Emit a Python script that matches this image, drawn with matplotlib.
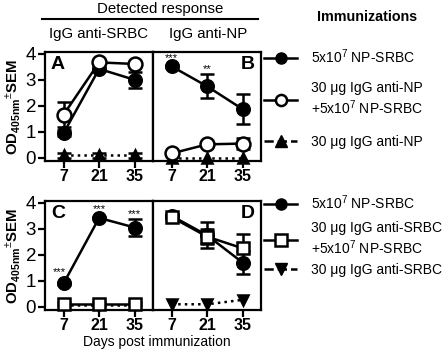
import matplotlib
matplotlib.use("Agg")
import matplotlib.pyplot as plt
from matplotlib.lines import Line2D

plt.rcParams['font.family'] = ['Liberation Sans', 'DejaVu Sans']
plt.rcParams['mathtext.fontset'] = 'custom'
plt.rcParams['mathtext.rm'] = 'Liberation Sans'
plt.rcParams['mathtext.it'] = 'Liberation Sans:italic'
plt.rcParams['mathtext.bf'] = 'Liberation Sans:bold'

# Data
days = [7, 21, 35]

# A: IgG anti-SRBC, top-row immunizations
a_np_srbc = [0.95, 3.42, 3.0]
a_np_srbc_err = [0.12, 0.08, 0.32]
a_antinp_np = [1.66, 3.67, 3.61]
a_antinp_np_err = [0.48, 0.06, 0.06]
a_antinp = [0.1, 0.1, 0.1]
a_antinp_err = [0.1, 0.1, 0.1]

# B: IgG anti-NP, top-row immunizations
b_np_srbc = [3.52, 2.75, 1.87]
b_np_srbc_err = [0.05, 0.46, 0.58]
b_antinp_np = [0.17, 0.52, 0.55]
b_antinp_np_err = [0.05, 0.06, 0.22]
b_antinp = [0.0, 0.0, 0.0]

# C: IgG anti-SRBC, bottom-row immunizations
c_np_srbc = [0.9, 3.42, 3.05]
c_np_srbc_err = [0.05, 0.05, 0.33]
c_antisrbc_np = [0.12, 0.12, 0.12]
c_antisrbc_np_err = [0.06, 0.06, 0.06]
c_antisrbc = [0.08, 0.08, 0.08]

# D: IgG anti-NP, bottom-row immunizations
d_np_srbc = [3.5, 2.75, 1.7]
d_np_srbc_err = [0.06, 0.5, 0.45]
d_antisrbc_np = [3.45, 2.7, 2.25]
d_antisrbc_np_err = [0.06, 0.3, 0.55]
d_antisrbc = [0.1, 0.1, 0.27]

top_labels = ["5x10$^7$ NP-SRBC", "30 \u03bcg IgG anti-NP\n+5x10$^7$ NP-SRBC", "30 \u03bcg IgG anti-NP"]
bottom_labels = ["5x10$^7$ NP-SRBC", "30 \u03bcg IgG anti-SRBC\n+5x10$^7$ NP-SRBC", "30 \u03bcg IgG anti-SRBC"]

W, H = 448, 353
fig = plt.figure(figsize=(W / 100, H / 100), dpi=100)

LW = 1.8
MS = 9


def make_ax(left, top, width, height):
    return fig.add_axes([left / W, 1 - (top + height) / H, width / W, height / H])


def style(ax, show_y):
    ax.set_xlim(-0.5, 42)
    ax.set_ylim(-0.12, 4.07)
    ax.set_xticks(days)
    ax.set_xticklabels([str(d) for d in days], fontsize=11.5, fontweight='bold')
    for s in ax.spines.values():
        s.set_linewidth(1.6)
    ax.tick_params(axis='x', direction='out', length=5, width=1.6, pad=1)
    if show_y:
        ax.set_yticks([0, 1, 2, 3, 4])
        ax.tick_params(axis='y', direction='out', length=5, width=1.6, labelsize=13.5, pad=1)
    else:
        ax.set_yticks([])


def series(ax, y, err, marker, mfc, ls='-', ms=MS):
    ax.errorbar(days, y, yerr=err, fmt=marker, ls=ls, color='k', mfc=mfc, mec='k', mew=1.8,
                ms=ms, lw=LW, elinewidth=LW, capsize=5, capthick=LW, clip_on=False, zorder=3)


axA = make_ax(44.5, 52, 108, 109)
axB = make_ax(152.5, 52, 108, 109)
axC = make_ax(44.5, 201, 108, 109)
axD = make_ax(152.5, 201, 108, 109)

# Panel A
series(axA, a_antinp, a_antinp_err, '^', 'k', ls=':', ms=7)
series(axA, a_np_srbc, a_np_srbc_err, 'o', 'k')
series(axA, a_antinp_np, a_antinp_np_err, 'o', 'white', ms=10)

# Panel B
series(axB, b_antinp, None, '^', 'k', ls=':', ms=7)
series(axB, b_np_srbc, b_np_srbc_err, 'o', 'k')
series(axB, b_antinp_np, b_antinp_np_err, 'o', 'white', ms=10)
axB.text(7, 3.72, '***', ha='center', fontsize=8)
axB.text(21, 3.28, '**', ha='center', fontsize=8)

# Panel C
series(axC, c_antisrbc, None, 'v', 'k', ls=':', ms=7)
series(axC, c_antisrbc_np, c_antisrbc_np_err, 's', 'white', ms=9)
series(axC, c_np_srbc, c_np_srbc_err, 'o', 'k')
axC.text(5.2, 1.22, '***', ha='center', fontsize=8)
axC.text(21, 3.64, '***', ha='center', fontsize=8)
axC.text(35, 3.46, '***', ha='center', fontsize=8)

# Panel D
series(axD, d_antisrbc, None, 'v', 'k', ls=':', ms=7)
series(axD, d_np_srbc, d_np_srbc_err, 'o', 'k')
series(axD, d_antisrbc_np, d_antisrbc_np_err, 's', 'white', ms=9)

for ax, letter, show_y in [(axA, 'A', True), (axB, 'B', False), (axC, 'C', True), (axD, 'D', False)]:
    style(ax, show_y)
    if show_y:
        ax.text(0.06, 0.96, letter, transform=ax.transAxes, ha='left', va='top',
                fontsize=14, fontweight='bold')
    else:
        ax.text(0.95, 0.96, letter, transform=ax.transAxes, ha='right', va='top',
                fontsize=14, fontweight='bold')

# y labels
for ax in (axA, axC):
    ax.set_ylabel(r"OD$_{\mathbf{405nm}}$$^{\pm}$SEM", fontsize=10.8, fontweight='bold', labelpad=2)

fig.text(157 / W, 1 - 342 / H, "Days post immunization", ha='center', va='center', fontsize=10)

# Headers
fig.text(160 / W, 1 - 9 / H, "Detected response", ha='center', va='center', fontsize=10.8)
fig.add_artist(Line2D([42 / W, 258 / W], [1 - 19 / H] * 2, transform=fig.transFigure,
                      color='k', lw=1.5))
fig.text(98 / W, 1 - 34 / H, "IgG anti-SRBC", ha='center', va='center', fontsize=10.8)
fig.text(208 / W, 1 - 34 / H, "IgG anti-NP", ha='center', va='center', fontsize=10.8)
fig.text(367 / W, 1 - 17 / H, "Immunizations", ha='center', va='center', fontsize=10.3,
         fontweight='bold')

# Legends, one entry each so the rows sit where the reference has them
top_handles = [
    Line2D([], [], color='k', lw=LW, marker='o', ms=8, mfc='k'),
    Line2D([], [], color='k', lw=LW, marker='o', ms=8, mfc='white', mew=1.8),
    Line2D([], [], color='k', lw=LW, ls='--', marker='^', ms=8, mfc='k'),
]
bottom_handles = [
    Line2D([], [], color='k', lw=LW, marker='o', ms=8, mfc='k'),
    Line2D([], [], color='k', lw=LW, marker='s', ms=8, mfc='white', mew=1.8),
    Line2D([], [], color='k', lw=LW, ls='--', marker='v', ms=8, mfc='k'),
]
top_rows = [57, 99, 142]
bottom_rows = [203, 239, 270]
for handles, labels, rows in [(top_handles, top_labels, top_rows),
                              (bottom_handles, bottom_labels, bottom_rows)]:
    for h, lab, yc in zip(handles, labels, rows):
        fig.legend([h], [lab], loc='center left', bbox_to_anchor=(264 / W, 1 - yc / H),
                   frameon=False, fontsize=10, handlelength=2.4, handletextpad=1.0,
                   borderpad=0, borderaxespad=0)

fig.savefig("out.png", dpi=100)
